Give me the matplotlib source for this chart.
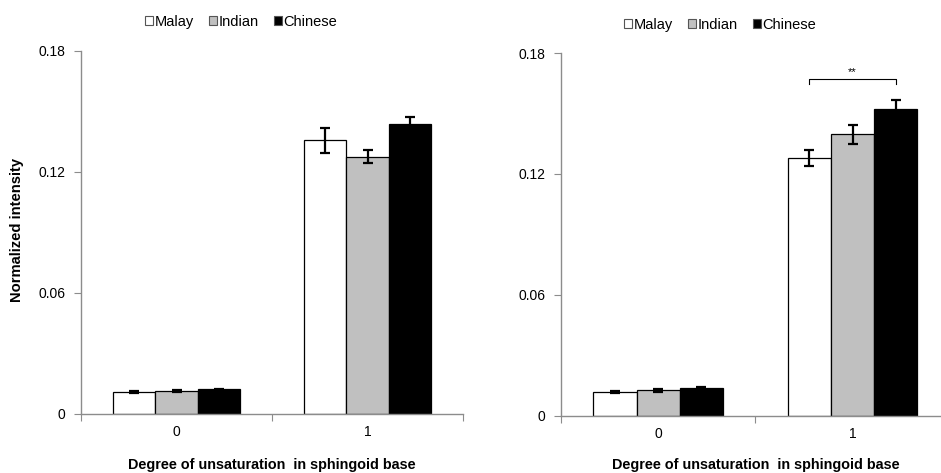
import matplotlib
matplotlib.use("Agg")
import matplotlib.pyplot as plt
from matplotlib.patches import Patch
import numpy as np

plt.rcParams['font.family'] = ['Liberation Sans', 'DejaVu Sans']

categories = ["0", "1"]
groups = ["Malay", "Indian", "Chinese"]
colors = ["white", "#c0c0c0", "black"]

# left panel: mean and error per group, for each degree of unsaturation
left_means = {"Malay": [0.0106, 0.1357], "Indian": [0.0111, 0.1276], "Chinese": [0.0121, 0.1436]}
left_errs = {"Malay": [0.0005, 0.0061], "Indian": [0.0005, 0.0034], "Chinese": [0.0004, 0.0038]}

# right panel
right_means = {"Malay": [0.0116, 0.1280], "Indian": [0.0126, 0.1396], "Chinese": [0.0138, 0.1524]}
right_errs = {"Malay": [0.0005, 0.0041], "Indian": [0.0006, 0.0049], "Chinese": [0.0006, 0.0045]}

yticks = [0, 0.06, 0.12, 0.18]
ytick_labels = ["0", "0.06", "0.12", "0.18"]
xlabel = "Degree of unsaturation  in sphingoid base"
ylabel = "Normalized intensity"

W, H = 941, 473
fig = plt.figure(figsize=(W / 100, H / 100), dpi=100)
ax_l = fig.add_axes([81 / W, 1 - 413.7 / H, 382 / W, 362.7 / H])
ax_r = fig.add_axes([561 / W, 1 - 415.7 / H, 388.7 / W, 362.7 / H])

bar_w = 0.222
x = np.arange(len(categories))
spine_color = "#8c8c8c"


def draw_panel(ax, means, errs):
    for i, g in enumerate(groups):
        pos = x + (i - 1) * bar_w
        ax.bar(pos, means[g], width=bar_w, color=colors[i], edgecolor="black",
               linewidth=0.9, zorder=2)
        ax.errorbar(pos, means[g], yerr=errs[g], fmt="none", ecolor="black",
                    elinewidth=1.6, capsize=3.5, capthick=1.6, zorder=3)
    ax.set_xlim(-0.5, 1.5)
    ax.set_ylim(0, 0.18)
    ax.set_yticks(yticks)
    ax.set_yticklabels(ytick_labels, fontsize=10)
    ax.set_xticks([-0.5, 0.5, 1.5])
    ax.set_xticklabels([])
    ax.set_xticks(x, minor=True)
    ax.set_xticklabels(categories, minor=True, fontsize=10)
    ax.tick_params(axis="x", which="minor", length=0, pad=8)
    ax.tick_params(axis="x", which="major", length=5, color=spine_color, direction="out")
    ax.tick_params(axis="y", length=5, color=spine_color, direction="out", pad=6)
    for s in ["top", "right"]:
        ax.spines[s].set_visible(False)
    for s in ["left", "bottom"]:
        ax.spines[s].set_color(spine_color)
        ax.spines[s].set_linewidth(1.0)
    ax.set_xlabel(xlabel, fontsize=10.4, fontweight="bold")


draw_panel(ax_l, left_means, left_errs)
draw_panel(ax_r, right_means, right_errs)
ax_r.spines["bottom"].set_clip_on(False)

ax_l.xaxis.set_label_coords(0.5, (413.7 - 465) / 362.7)
ax_r.xaxis.set_label_coords(0.5, (415.7 - 465) / 362.7)
ax_l.xaxis.label.set_va("center")
ax_r.xaxis.label.set_va("center")

ax_l.set_ylabel(ylabel, fontsize=10.6, fontweight="bold")
ax_l.yaxis.set_label_coords((17 - 81) / 382, (413.7 - 230) / 362.7)
ax_l.yaxis.label.set_va("center")

handles = [Patch(facecolor=c, edgecolor="#555555", linewidth=0.8, label=g)
           for g, c in zip(groups, colors)]
for cx, cy in [(241 / W, 1 - 22 / H), (720 / W, 1 - 25 / H)]:
    fig.legend(handles=handles, loc="center", bbox_to_anchor=(cx, cy), ncol=3,
               frameon=False, fontsize=10.5, handlelength=0.55, handleheight=0.55,
               handletextpad=0.15, columnspacing=1.0, borderaxespad=0)

# significance bracket between Malay and Chinese at degree 1
x1 = x[1] - bar_w
x2 = x[1] + bar_w
yb = 0.1669
ax_r.plot([x1, x1, x2, x2], [yb - 0.0025, yb, yb, yb - 0.0025], color="black",
          linewidth=0.8, zorder=3)
ax_r.text((x1 + x2) / 2, yb + 0.001, "**", ha="center", va="bottom", fontsize=8)

fig.savefig("out.png", dpi=100)
